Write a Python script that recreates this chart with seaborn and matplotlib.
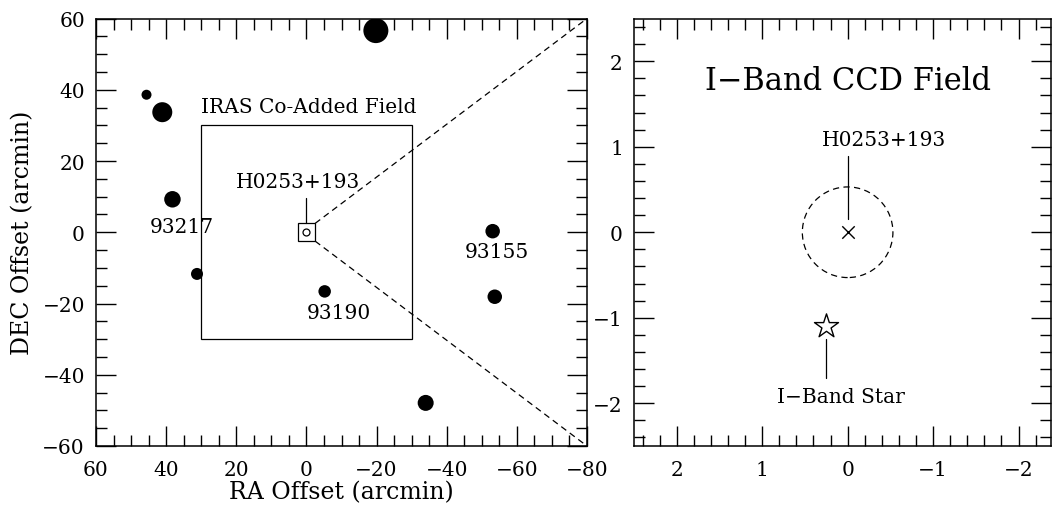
import matplotlib
matplotlib.use("Agg")
import matplotlib.pyplot as plt
import seaborn as sns
import pandas as pd
from matplotlib.patches import Rectangle, Circle
from matplotlib.ticker import MultipleLocator

# ---------------- data ----------------
# IRAS sources in the wide field (arcmin offsets from H0253+193)
src_ra = [-19.8, 45.6, 41.1, 38.2, 31.2, -53.1, -5.2, -53.7, -34.0]
src_dec = [56.6, 38.6, 33.7, 9.25, -11.7, 0.3, -16.6, -18.1, -47.9]
src_size = [25, 10, 20, 16.5, 12, 14.5, 12.5, 14.5, 16]   # relative symbol size
src_name = ["", "", "", "93217", "", "93155", "93190", "", ""]

iras_half = 30.0        # half width of IRAS co-added field (arcmin)
ccd_half = 2.5          # half width of I-band CCD field (arcmin)

target_name = "H0253+193"
target_ra, target_dec = 0.0, 0.0
error_radius = 0.53
star_ra, star_dec = 0.25, -1.10

left_xticks = [60, 40, 20, 0, -20, -40, -60, -80]
left_yticks = [-60, -40, -20, 0, 20, 40, 60]
right_ticks = [-2, -1, 0, 1, 2]

df = pd.DataFrame({"ra": src_ra, "dec": src_dec, "size": src_size, "name": src_name})

# ---------------- style ----------------
sns.set_style("ticks")
plt.rcParams["font.family"] = ["DejaVu Serif"]
plt.rcParams["mathtext.fontset"] = "dejavuserif"
for k in ["text.color", "axes.labelcolor", "xtick.color", "ytick.color", "axes.edgecolor"]:
    plt.rcParams[k] = "black"

fig = plt.figure(figsize=(10.52, 5.06), dpi=100)
W, H = 1052, 506
axL = fig.add_axes([96 / W, 1 - 447 / H, (587 - 96) / W, (447 - 19.5) / H])
axR = fig.add_axes([634 / W, 1 - 447 / H, (1051 - 634) / W, (447 - 19.5) / H])

FS_TICK = 14.5
FS_LAB = 14.5


def style_axes(ax, major, minor):
    for s in ax.spines.values():
        s.set_linewidth(1.1)
        s.set_color("black")
    ax.xaxis.set_major_locator(MultipleLocator(major))
    ax.xaxis.set_minor_locator(MultipleLocator(minor))
    ax.yaxis.set_major_locator(MultipleLocator(major))
    ax.yaxis.set_minor_locator(MultipleLocator(minor))
    ax.tick_params(which="both", direction="in", top=True, right=True,
                   width=1.0, color="black", labelcolor="black", labelsize=FS_TICK)
    ax.tick_params(which="major", length=14.5)
    ax.tick_params(which="minor", length=7.8)
    ax.tick_params(axis="x", which="major", pad=10)
    ax.tick_params(axis="y", which="major", pad=8)


# ---------------- left panel ----------------
sizes_map = {v: (v * 0.72) ** 2 for v in src_size}
sns.scatterplot(data=df, x="ra", y="dec", size="size", sizes=sizes_map,
                color="black", edgecolor="none", linewidth=0, legend=False,
                ax=axL, zorder=3)
axL.set_xlim(60, -80)
axL.set_ylim(-60, 60)
style_axes(axL, 20, 5)
axL.set_xticks(left_xticks)
axL.set_yticks(left_yticks)

axL.add_patch(Rectangle((-iras_half, -iras_half), 2 * iras_half, 2 * iras_half,
                        fill=False, lw=0.9, ec="black"))
axL.add_patch(Rectangle((target_ra - ccd_half, target_dec - ccd_half), 2 * ccd_half, 2 * ccd_half,
                        fill=False, lw=0.9, ec="black", zorder=4))
axL.plot([target_ra], [target_dec], marker="o", ms=5, mfc="none", mec="black", mew=0.9, zorder=5)
# zoom lines from CCD box to the corners
xl = axL.get_xlim()
yl = axL.get_ylim()
axL.plot([target_ra - ccd_half, xl[1]], [target_dec + ccd_half, yl[1]],
         color="black", lw=0.9, dashes=(5, 3.5), clip_on=False)
axL.plot([target_ra - ccd_half, xl[1]], [target_dec - ccd_half, yl[0]],
         color="black", lw=0.9, dashes=(5, 3.5), clip_on=False)
axL.plot([target_ra, target_ra], [target_dec + ccd_half, 9.6], color="black", lw=0.9)

axL.text(2.4, 12.7, target_name, ha="center", va="baseline", fontsize=FS_LAB)
axL.text(iras_half, 33.8, "IRAS Co-Added Field", ha="left", va="baseline", fontsize=FS_LAB)
label_off = {"93217": (-2.6, -9.25), "93155": (-1.2, -7.3), "93190": (-4.1, -7.6)}
for r, d, n in zip(src_ra, src_dec, src_name):
    if n:
        dx, dy = label_off[n]
        axL.text(r + dx, d + dy, n, ha="center", va="baseline", fontsize=FS_LAB)

axL.set_xlabel("RA Offset (arcmin)", fontsize=17, labelpad=1)
axL.set_ylabel("DEC Offset (arcmin)", fontsize=17, labelpad=6)

# ---------------- right panel ----------------
axR.set_xlim(2.5, -2.38)
axR.set_ylim(-2.5, 2.5)
style_axes(axR, 1, 0.2)
axR.set_xticks(right_ticks)
axR.set_yticks(right_ticks)

axR.add_patch(Circle((target_ra, target_dec), error_radius, fill=False, ec="black",
                     lw=0.9, linestyle=(0, (5, 3.5))))
sns.scatterplot(x=[target_ra], y=[target_dec], marker="x", s=80, color="black",
                linewidth=1.0, ax=axR, legend=False, zorder=4)
sns.scatterplot(x=[star_ra], y=[star_dec], marker="*", s=330, facecolor="white",
                edgecolor="black", linewidth=1.0, ax=axR, legend=False, zorder=4)
axR.plot([target_ra, target_ra], [0.156, 0.89], color="black", lw=0.9)
axR.plot([star_ra, star_ra], [-1.25, -1.70], color="black", lw=0.9)

axR.text(0.0, 1.68, "I\u2212Band CCD Field", ha="center", va="baseline", fontsize=22)
axR.text(-0.42, 1.02, target_name, ha="center", va="baseline", fontsize=FS_LAB)
axR.text(0.08, -1.99, "I\u2212Band Star", ha="center", va="baseline", fontsize=FS_LAB)
axR.set_xlabel("")
axR.set_ylabel("")

fig.savefig("out.png", dpi=100)
